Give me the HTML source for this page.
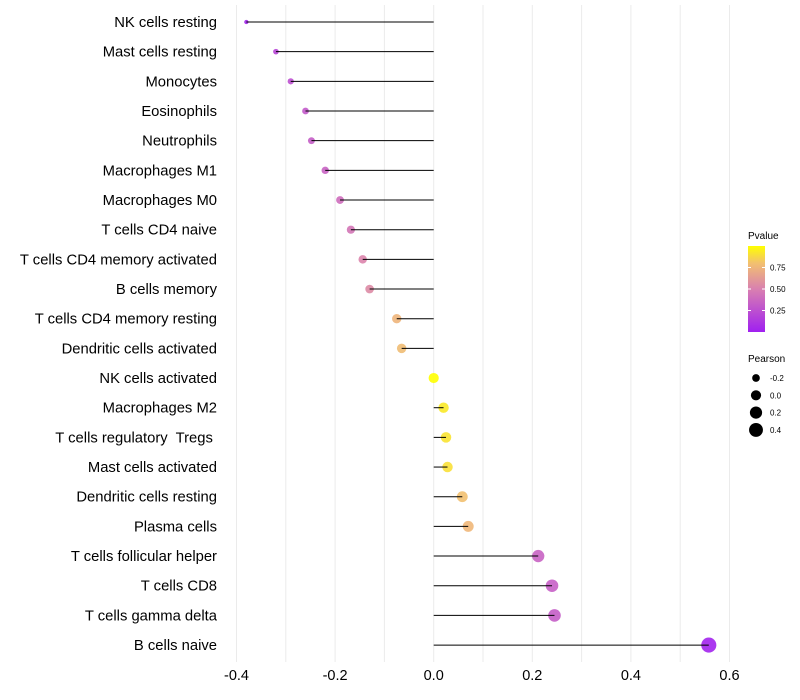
<!DOCTYPE html>
<html><head><meta charset="utf-8"><style>
body{margin:0;background:#fff}
svg{display:block;font-family:"Liberation Sans",Arial,sans-serif}
text{white-space:pre}
</style></head><body>
<svg id="chart" width="800" height="700">
<defs><linearGradient id="pg" x1="0" y1="1" x2="0" y2="0">
<stop offset="0" stop-color="#a020f0"/><stop offset="0.5" stop-color="#d980b0"/><stop offset="0.8" stop-color="#f2c070"/><stop offset="1" stop-color="#ffff00"/></linearGradient></defs>
<g id="grid"></g>
<g id="marks"></g>
<g id="ylab"></g>
<g id="xlab"></g>
<g>
<text x="748" y="239" font-size="10" fill="#000">Pvalue</text>
<rect x="748" y="246" width="17" height="86" fill="url(#pg)"/>
<g id="cbt"></g>
</g>
<g>
<text x="748" y="362" font-size="10" fill="#000">Pearson</text>
<g id="szl"></g>
</g>
</svg>
<script>
const cells = ["NK cells resting","Mast cells resting","Monocytes","Eosinophils","Neutrophils","Macrophages M1","Macrophages M0","T cells CD4 naive","T cells CD4 memory activated","B cells memory","T cells CD4 memory resting","Dendritic cells activated","NK cells activated","Macrophages M2","T cells regulatory  Tregs ","Mast cells activated","Dendritic cells resting","Plasma cells","T cells follicular helper","T cells CD8","T cells gamma delta","B cells naive"];
const pearson = [-0.38,-0.32,-0.29,-0.26,-0.248,-0.22,-0.19,-0.168,-0.144,-0.13,-0.075,-0.065,0.0,0.02,0.025,0.028,0.058,0.07,0.212,0.24,0.245,0.558];
const pvalue = [0.03,0.2,0.25,0.3,0.32,0.35,0.4,0.45,0.52,0.55,0.75,0.78,1.0,0.93,0.91,0.9,0.8,0.76,0.35,0.33,0.32,0.02];
const xTicks = [-0.4,-0.2,0.0,0.2,0.4,0.6];
const xTickLabels = ["-0.4","-0.2","0.0","0.2","0.4","0.6"];
const pTicks = [0.25,0.5,0.75];
const pTickLabels = ["0.25","0.50","0.75"];
const sizeLegend = [-0.2,0.0,0.2,0.4];
const sizeLegendLabels = ["-0.2","0.0","0.2","0.4"];

const NS="http://www.w3.org/2000/svg";
const x = v => 433.7 + v*493;
const y = i => 22 + i*29.67;
const r = v => Math.sqrt(Math.max(2, 26 + v*56));
const py = p => 332 - p*86;
function mk(t,a,parent){const e=document.createElementNS(NS,t);for(const k in a)e.setAttribute(k,a[k]);parent.appendChild(e);return e;}
function lerp(a,b,t){return a.map((v,i)=>Math.round(v+(b[i]-v)*t));}
function col(p){const st=[[0,[160,32,240]],[0.5,[217,128,176]],[0.8,[242,192,112]],[1,[255,255,0]]];
 for(let i=1;i<st.length;i++){if(p<=st[i][0]){const t=(p-st[i-1][0])/(st[i][0]-st[i-1][0]);return "rgb("+lerp(st[i-1][1],st[i][1],t).join(",")+")";}}return "rgb(255,255,0)";}
const grid=document.getElementById('grid'),marks=document.getElementById('marks'),ylab=document.getElementById('ylab'),xlab=document.getElementById('xlab');
for(let v=-0.4;v<=0.6001;v+=0.1){
 const g=mk('line',{x1:x(v),x2:x(v),y1:5,y2:662,stroke:'#ebebeb','stroke-width':1},grid);
 
 
}
xTicks.forEach((v,i)=>{
 const t=mk('text',{x:x(v),y:680,'font-size':14.5,'text-anchor':'middle',fill:'#000'},xlab);t.textContent=xTickLabels[i];
 
 
});
cells.forEach((c,i)=>{
 const t=mk('text',{x:217,y:y(i)+5,'font-size':14.8,'text-anchor':'end',fill:'#000'},ylab);t.textContent=c;
 
 
 const p=mk('circle',{cx:x(pearson[i]),cy:y(i),r:r(pearson[i]),fill:col(pvalue[i]),'fill-opacity':0.9},marks);
 
 
 const l=mk('line',{x1:x(0),x2:x(pearson[i]),y1:y(i),y2:y(i),stroke:'#000','stroke-width':1},marks);
 
 
});
const cbt=document.getElementById('cbt');
pTicks.forEach((p,i)=>{
 const a=mk('line',{x1:748,x2:751,y1:py(p),y2:py(p),stroke:'#fff'},cbt);
 
 
 const b=mk('line',{x1:762,x2:765,y1:py(p),y2:py(p),stroke:'#fff'},cbt);
 
 
 const t=mk('text',{x:770,y:py(p)+3,'font-size':8,fill:'#000'},cbt);t.textContent=pTickLabels[i];
 
 
});
const szl=document.getElementById('szl');
sizeLegend.forEach((v,i)=>{
 const cy=378+i*17.3;
 const c=mk('circle',{cx:756,cy:cy,r:r(v),fill:'#000'},szl);
 
 
 const t=mk('text',{x:770,y:cy+3,'font-size':8,fill:'#000'},szl);t.textContent=sizeLegendLabels[i];
 
 
});
</script>
</body></html>
